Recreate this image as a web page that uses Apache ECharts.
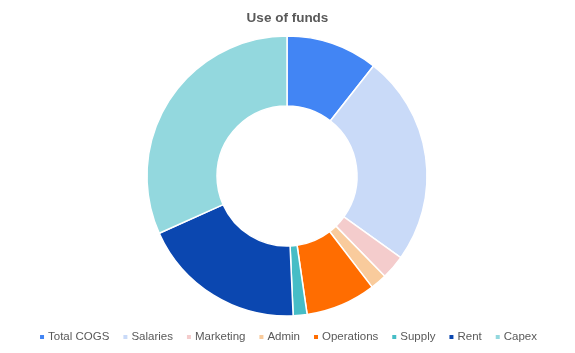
<!DOCTYPE html>
<html>
<head>
<meta charset="utf-8">
<script src="https://cdn.jsdelivr.net/npm/echarts@6/dist/echarts.min.js"></script>
<style>
  html, body { margin: 0; padding: 0; background: #fff; }
  #chart { width: 575px; height: 353px; }
</style>
</head>
<body>
<div id="chart"></div>
<script>
// share of funds (percent)
const categories = ['Total COGS', 'Salaries', 'Marketing', 'Admin', 'Operations', 'Supply', 'Rent', 'Capex'];
const values = [10.6, 24.3, 2.8, 1.9, 8.1, 1.6, 19.0, 31.7];
const colors = ['#4285f4', '#c9daf8', '#f4cccc', '#f9cb9c', '#ff6d01', '#46bdc6', '#0b47b0', '#93d8de'];

const chart = echarts.init(document.getElementById('chart'));

chart.setOption({
  animation: false,
  color: colors,
  title: {
    text: 'Use of funds',
    left: 'center',
    top: 6,
    textStyle: { fontFamily: 'Liberation Sans, Arial', fontSize: 13.5, fontWeight: 'bold', color: '#595959' }
  },
  legend: {
    bottom: 5,
    left: 'center',
    itemWidth: 6,
    itemHeight: 6,
    itemGap: 12,
    icon: 'rect',
    textStyle: { fontFamily: 'Liberation Sans, Arial', fontSize: 11.5, color: '#595959', padding: [0, 0, 0, -2] },
    data: categories
  },
  series: [{
    type: 'pie',
    center: [287, 176],
    radius: [70, 140],
    startAngle: 90,
    clockwise: true,
    label: { show: false },
    labelLine: { show: false },
    itemStyle: { borderColor: '#fff', borderWidth: 1.5 },
    data: categories.map((name, i) => ({ name, value: values[i] }))
  }]
});
</script>
</body>
</html>
